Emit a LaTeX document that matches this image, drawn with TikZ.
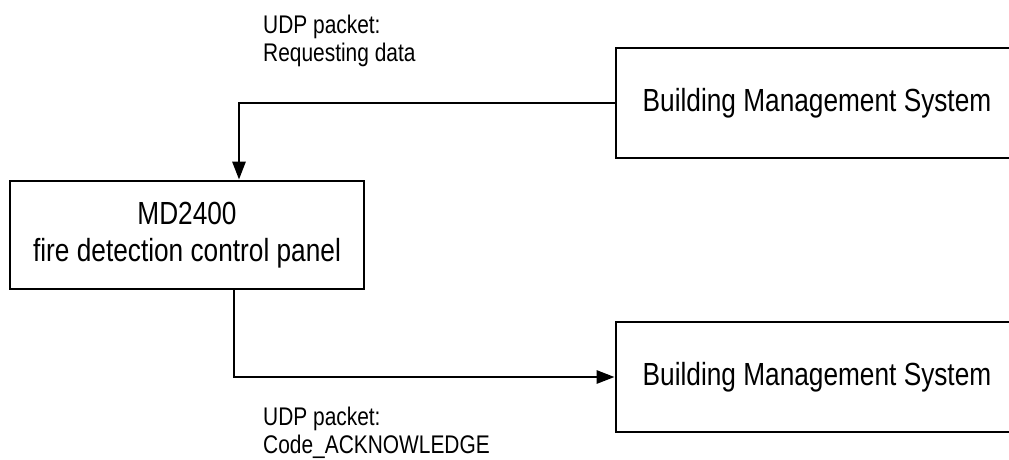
\documentclass[tikz,border=0pt]{standalone}
\usepackage{fontspec}
\setmainfont{Liberation Sans}[FakeStretch=0.82]
\usetikzlibrary{positioning}
\usetikzlibrary{arrows.meta}
\tikzset{>={Triangle[length=18pt, width=13pt]}}
\tikzset{block/.style={draw, line width=2.8pt, align=center, inner sep=0pt, font=\fontsize{32}{37}\selectfont}}
\tikzset{udplabel/.style={anchor=north west, align=left, inner sep=0pt, font=\fontsize{25.5}{28}\selectfont}}

\begin{document}
\begin{tikzpicture}[x=1pt, y=-1pt]
    \clip (0, 0) rectangle (1009, 459);
    \node[block, minimum width=402pt, minimum height=110pt](bms1) at (817, 103){Building Management System};
    \node[block, minimum width=354pt, minimum height=108pt](md) at (187, 235){MD2400\\fire detection control panel};
    \node[block, minimum width=402pt, minimum height=110pt](bms2) at (817, 377){Building Management System};
    \draw[->, line width=2.8pt](bms1.west) -| ([xshift=52pt]md.north);
    \draw[->, line width=2.8pt]([xshift=47pt]md.south) |- (bms2.west);
    \node[udplabel](req) at (263, 14.5){UDP packet:\\Requesting data};
    \node[udplabel](ack) at (263, 406.5){UDP packet:\\Code\_ACKNOWLEDGE};
\end{tikzpicture}
\end{document}
